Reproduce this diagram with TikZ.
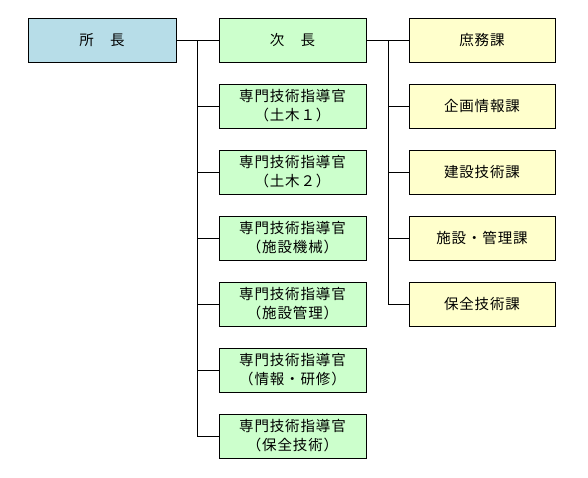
\documentclass[tikz,border=0pt]{standalone}
\usepackage{fontspec}
\newfontfamily\jp[LetterSpace=6]{Noto Sans CJK JP}
\begin{document}
\begin{tikzpicture}[x=1pt,y=-1pt,
  box/.style={draw=black,line width=0.9pt,rectangle,minimum height=44pt,inner sep=0pt,align=center,
    font=\jp\fontsize{14.5}{19}\selectfont},
  bluebox/.style={box,fill=blueA,minimum width=148pt},
  greenbox/.style={box,fill=greenA,minimum width=147pt},
  yellowbox/.style={box,fill=yellowA,minimum width=146pt},
  conn/.style={line width=0.9pt,black}]
\definecolor{blueA}{RGB}{183,221,232}
\definecolor{greenA}{RGB}{204,255,204}
\definecolor{yellowA}{RGB}{255,255,204}
\useasboundingbox[fill=white] (0,0) rectangle (588,477);
\node[bluebox] (shocho) at (102,40) {所　長};
\node[greenbox] (jicho) at (292.5,40) {次　長};
\node[greenbox] (g1) at (292.5,106) {専門技術指導官\\（土木１）};
\node[greenbox] (g2) at (292.5,172) {専門技術指導官\\（土木２）};
\node[greenbox] (g3) at (292.5,238) {専門技術指導官\\（施設機械）};
\node[greenbox] (g4) at (292.5,304) {専門技術指導官\\（施設管理）};
\node[greenbox] (g5) at (292.5,370) {専門技術指導官\\（情報・研修）};
\node[greenbox] (g6) at (292.5,436) {専門技術指導官\\（保全技術）};
\node[yellowbox] (y1) at (482,40) {庶務課};
\node[yellowbox] (y2) at (482,106) {企画情報課};
\node[yellowbox] (y3) at (482,172) {建設技術課};
\node[yellowbox] (y4) at (482,238) {施設・管理課};
\node[yellowbox] (y5) at (482,304) {保全技術課};
\coordinate (trunkA) at (197,40);
\coordinate (trunkB) at (388,40);
\draw[conn] (shocho.east) -- (jicho.west);
\foreach \g in {g1,g2,g3,g4,g5,g6} \draw[conn] (\g.west) -| (trunkA);
\draw[conn] (jicho.east) -- (y1.west);
\foreach \y in {y2,y3,y4,y5} \draw[conn] (\y.west) -| (trunkB);
\end{tikzpicture}
\end{document}
